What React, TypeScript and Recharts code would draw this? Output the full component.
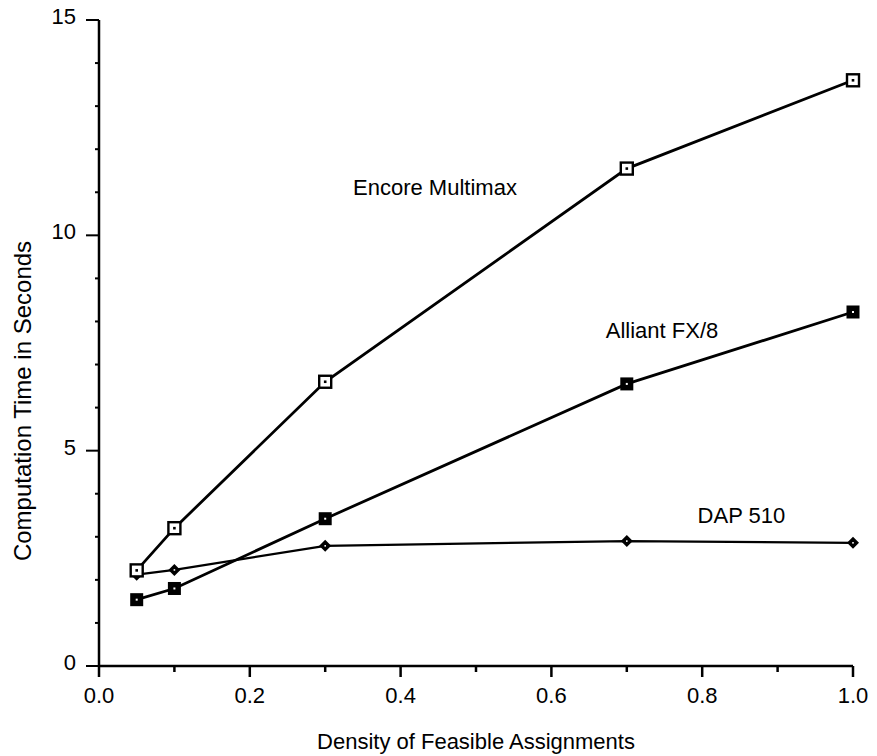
import { LineChart, Line, XAxis, YAxis, ReferenceDot } from "recharts";

const density = [0.05, 0.1, 0.3, 0.7, 1.0];
const encoreMultimax = [2.22, 3.2, 6.6, 11.55, 13.6];
const alliantFx8 = [1.54, 1.8, 3.42, 6.55, 8.22];
const dap510 = [2.12, 2.23, 2.79, 2.9, 2.86];

const xTicks = [0, 0.1, 0.2, 0.3, 0.4, 0.5, 0.6, 0.7, 0.8, 0.9, 1.0];
const yTicks = [0, 1, 2, 3, 4, 5, 6, 7, 8, 9, 10, 11, 12, 13, 14, 15];

const data = density.map((d, i) => ({
  density: d,
  encore: encoreMultimax[i],
  alliant: alliantFx8[i],
  dap: dap510[i],
}));

const FONT = "'Liberation Sans', Arial, sans-serif";

const XTick = ({ x, y, payload }: any) => {
  const major = Math.round(payload.value * 10) % 2 === 0;
  return (
    <g>
      <line x1={x} y1={y} x2={x} y2={y + (major ? 11 : 6)} stroke="#000" strokeWidth={2.5} />
      {major && (
        <text x={x} y={y + 37} textAnchor="middle" fontSize={22} fontFamily={FONT} fill="#000">
          {payload.value.toFixed(1)}
        </text>
      )}
    </g>
  );
};

const YTick = ({ x, y, payload }: any) => {
  const major = payload.value % 5 === 0;
  return (
    <g>
      <line x1={x - (major ? 13 : 4)} y1={y} x2={x} y2={y} stroke="#000" strokeWidth={2} />
      {major && (
        <text x={x - 23} y={y + 4} textAnchor="end" fontSize={22} fontFamily={FONT} fill="#000">
          {payload.value}
        </text>
      )}
    </g>
  );
};

const OpenSquare = ({ cx, cy, index }: any) => (
  <g key={`e${index}`}>
    <rect x={cx - 6} y={cy - 6} width={12} height={12} fill="#fff" stroke="#000" strokeWidth={2.4} />
    <rect x={cx - 1.3} y={cy - 1.3} width={2.6} height={2.6} fill="#000" />
  </g>
);

const FilledSquare = ({ cx, cy, index }: any) => (
  <g key={`a${index}`}>
    <rect x={cx - 6.5} y={cy - 6.5} width={13} height={13} fill="#000" />
    <rect x={cx - 1} y={cy - 1} width={2} height={2} fill="#fff" />
  </g>
);

const Diamond = ({ cx, cy, index }: any) => (
  <g key={`d${index}`}>
    <path d={`M${cx},${cy - 6} L${cx + 6},${cy} L${cx},${cy + 6} L${cx - 6},${cy} Z`} fill="#000" />
    <rect x={cx - 0.8} y={cy - 0.8} width={1.6} height={1.6} fill="#fff" />
  </g>
);

const YTitle = () => (
  <text
    x={31}
    y={401}
    transform="rotate(-90 31 401)"
    textAnchor="middle"
    fontSize={24}
    fontFamily={FONT}
    fill="#000"
  >
    Computation Time in Seconds
  </text>
);

const XTitle = () => (
  <text x={476} y={749} textAnchor="middle" fontSize={22} fontFamily={FONT} fill="#000">
    Density of Feasible Assignments
  </text>
);

const labelStyle = { fill: "#000", fontSize: 22, fontFamily: FONT };

const App = () => {
  return (
    <div style={{ position: "absolute", left: 0, top: 0, width: 877, height: 756, background: "#fff" }}>
      <LineChart width={877} height={756} data={data} margin={{ top: 20, right: 24, left: 0, bottom: 40 }}>
        <XAxis
          dataKey="density"
          type="number"
          domain={[0, 1]}
          ticks={xTicks}
          interval={0}
          height={50}
          tickSize={0}
          tickMargin={0}
          tickLine={false}
          tick={<XTick />}
          axisLine={{ stroke: "#000", strokeWidth: 2.5 }}
          label={{ content: () => <XTitle /> }}
        />
        <YAxis
          type="number"
          domain={[0, 15]}
          ticks={yTicks}
          interval={0}
          width={99}
          tickSize={0}
          tickMargin={0}
          tickLine={false}
          tick={<YTick />}
          axisLine={{ stroke: "#000", strokeWidth: 2.5 }}
          label={{ content: () => <YTitle /> }}
        />
        <Line
          dataKey="dap"
          type="linear"
          stroke="#000"
          strokeWidth={2.2}
          dot={(p: any) => <Diamond {...p} />}
          activeDot={false}
          isAnimationActive={false}
        />
        <Line
          dataKey="alliant"
          type="linear"
          stroke="#000"
          strokeWidth={2.8}
          dot={(p: any) => <FilledSquare {...p} />}
          activeDot={false}
          isAnimationActive={false}
        />
        <Line
          dataKey="encore"
          type="linear"
          stroke="#000"
          strokeWidth={2.8}
          dot={(p: any) => <OpenSquare {...p} />}
          activeDot={false}
          isAnimationActive={false}
        />
        <ReferenceDot x={0.4456} y={11.11} r={0} fill="none" stroke="none"
          label={{ value: "Encore Multimax", position: "center", ...labelStyle }} />
        <ReferenceDot x={0.7467} y={7.8} r={0} fill="none" stroke="none"
          label={{ value: "Alliant FX/8", position: "center", ...labelStyle }} />
        <ReferenceDot x={0.852} y={3.51} r={0} fill="none" stroke="none"
          label={{ value: "DAP 510", position: "center", ...labelStyle }} />
      </LineChart>
    </div>
  );
};

export default App;
